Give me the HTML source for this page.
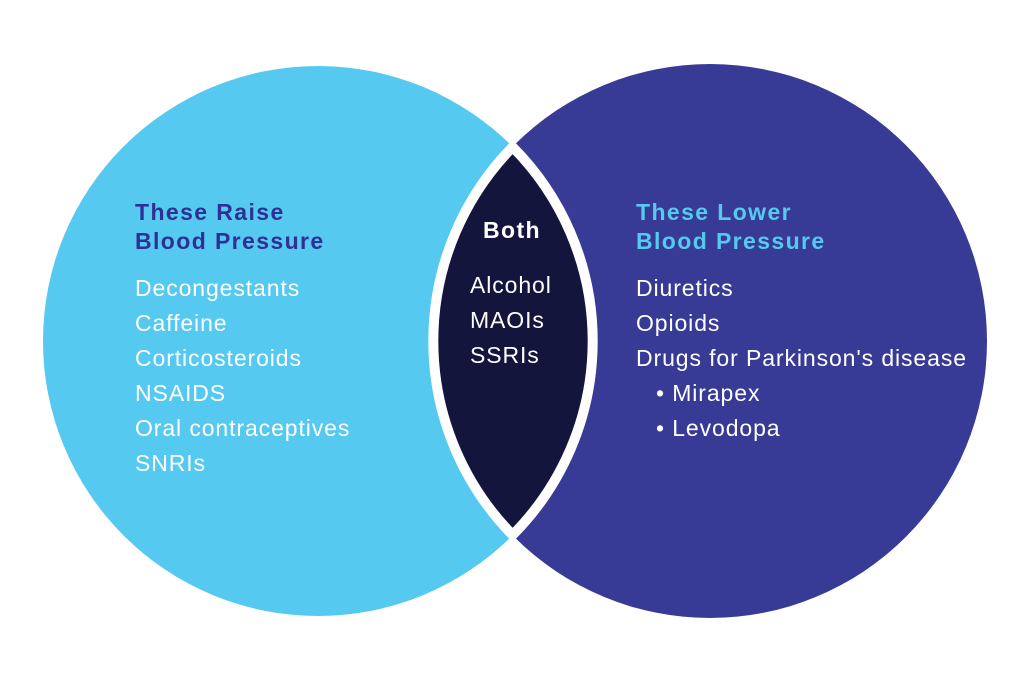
<!DOCTYPE html>
<html><head><meta charset="utf-8"><style>
html,body{margin:0;padding:0;background:#fff;}
svg{display:block;}
text{font-family:"Liberation Sans",sans-serif;fill:#fff;font-size:23px;letter-spacing:0.9px;}
.b{font-weight:bold;letter-spacing:1.4px;}
</style></head><body>
<svg width="1024" height="682" viewBox="0 0 1024 682">
<circle cx="318" cy="341" r="275" fill="#56c9f1"/>
<circle cx="710" cy="341" r="277" fill="#373b96"/>
<path d="M512.6,147 A275,275 0 0,1 512.6,535 A277,277 0 0,1 512.6,147 Z" fill="#13153d" stroke="#fff" stroke-width="10" stroke-linejoin="miter"/>
<g>
<text x="135" y="220" class="b" style="fill:#2e3192">These Raise</text>
<text x="135" y="249" class="b" style="fill:#2e3192">Blood Pressure</text>
<text x="135" y="296">Decongestants</text>
<text x="135" y="331">Caffeine</text>
<text x="135" y="366">Corticosteroids</text>
<text x="135" y="401">NSAIDS</text>
<text x="135" y="436">Oral contraceptives</text>
<text x="135" y="471">SNRIs</text>
</g>
<g>
<text x="512" y="238" class="b" text-anchor="middle">Both</text>
<text x="470" y="293">Alcohol</text>
<text x="470" y="328">MAOIs</text>
<text x="470" y="363">SSRIs</text>
</g>
<g>
<text x="636" y="220" class="b" style="fill:#56c9f1">These Lower</text>
<text x="636" y="249" class="b" style="fill:#56c9f1">Blood Pressure</text>
<text x="636" y="296">Diuretics</text>
<text x="636" y="331">Opioids</text>
<text x="636" y="366">Drugs for Parkinson's disease</text>
<text x="656" y="401">• Mirapex</text>
<text x="656" y="436">• Levodopa</text>
</g>
</svg>
</body></html>
